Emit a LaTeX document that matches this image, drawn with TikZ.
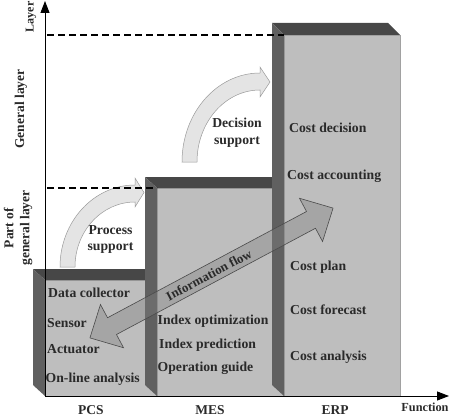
\documentclass[tikz,border=0pt]{standalone}
\usepackage{fontspec}
\setmainfont{Liberation Serif}
\usetikzlibrary{arrows.meta}
\definecolor{front}{HTML}{BEBEBE}
\definecolor{side}{HTML}{606060}
\definecolor{topc}{HTML}{474747}
\definecolor{txt}{HTML}{2A2A2A}
\definecolor{curvefill}{HTML}{E4E4E4}
\definecolor{curveedge}{HTML}{9A9A9A}
\definecolor{flowfill}{HTML}{808080}
\definecolor{flowedge}{HTML}{4A4A4A}
\begin{document}
\begin{tikzpicture}[x=1pt,y=-1pt,
  lbl/.style={font=\fontsize{13.7}{16}\selectfont\bfseries, text=txt, inner sep=0pt, anchor=west},
  axlbl/.style={font=\fontsize{13.5}{16}\selectfont\bfseries, text=txt, inner sep=0pt},
  frontface/.style={fill=front, draw=front!85!black, line width=0.3pt},
  sideface/.style={fill=side},
  topface/.style={fill=topc},
  curvearrow/.style={fill=curvefill, draw=curveedge, line width=0.5pt},
  flow/.style={fill=flowfill, fill opacity=0.4, draw=flowedge, draw opacity=1, line width=0.6pt},
  guide/.style={dash pattern=on 7pt off 4pt, line width=1.8pt},
  axisline/.style={line width=1pt, -{Triangle[length=12pt,width=9pt]}}
]
\useasboundingbox (0,0) rectangle (450,420);
% PCS block
\fill[frontface] (45,280) rectangle (157,396);
\fill[topface] (33,269) -- (157,269) -- (157,280) -- (45,280) -- cycle;
\fill[sideface] (33,269) -- (45,280) -- (45,396) -- (33,385) -- cycle;
% MES block
\fill[frontface] (157,188) rectangle (284,396);
\fill[topface] (145,177) -- (284,177) -- (284,188) -- (157,188) -- cycle;
\fill[sideface] (145,177) -- (157,188) -- (157,396) -- (145,385) -- cycle;
% ERP block
\filldraw[frontface] (284,35) rectangle (400,396);
\fill[topface] (272,23) -- (388,23) -- (400,35) -- (284,35) -- cycle;
\fill[sideface] (272,23) -- (284,35) -- (284,396) -- (272,385) -- cycle;
% curved arrows
\draw[curvearrow] (60,267) arc[start angle=180, end angle=270, x radius=75, y radius=82]
  -- (135,178) -- (144,192.5) -- (135,207) -- (135,202)
  arc[start angle=270, end angle=180, x radius=60, y radius=65] -- cycle;
\draw[curvearrow] (182,162) arc[start angle=180, end angle=270, x radius=78, y radius=89]
  -- (260,67) -- (270,82) -- (260,97) -- (260,90)
  arc[start angle=270, end angle=180, x radius=63, y radius=72] -- cycle;
\node[axlbl, align=center, font=\fontsize{13.7}{16}\selectfont\bfseries] (procsup) at (110.5,239) {Process\\support};
\node[axlbl, align=center, font=\fontsize{13.7}{17}\selectfont\bfseries] (decsup) at (237,132.5) {Decision\\support};
% information flow
\begin{scope}[shift={(211.5,273)}, rotate=28.1]
\draw[flow] (-137.8,0) -- (-112.8,24.5) -- (-112.8,9.5) -- (112.8,9.5) -- (112.8,24.5)
  -- (137.8,0) -- (112.8,-24.5) -- (112.8,-9.5) -- (-112.8,-9.5) -- (-112.8,-24.5) -- cycle;
\end{scope}
\node[axlbl, rotate=28.1, font=\fontsize{13}{15}\selectfont\bfseries] (flowtxt) at (209,275) {Information flow};
% guide lines
\coordinate (g1a) at (47,35); \coordinate (g1b) at (284,35);
\coordinate (g2a) at (47,188); \coordinate (g2b) at (157,188);
\draw[guide] (g1a) -- (g1b);
\draw[guide] (g2a) -- (g2b);
% axes
\coordinate (o) at (45,396);
\coordinate (ytip) at (45,1);
\coordinate (xtip) at (449,396);
\draw[axisline] (o) -- (ytip);
\draw[axisline] (o) -- (xtip);
% PCS texts
\node[lbl] (dc) at (48,293) {Data collector};
\node[lbl] (sen) at (47,323) {Sensor};
\node[lbl] (act) at (47,349) {Actuator};
\node[lbl] (ola) at (45.5,379) {On-line analysis};
% MES texts
\node[lbl] (io) at (157.5,321) {Index optimization};
\node[lbl] (ip) at (159,345) {Index prediction};
\node[lbl] (og) at (157.5,368) {Operation guide};
% ERP texts
\node[lbl] (cd) at (289,128) {Cost decision};
\node[lbl] (ca) at (287,176) {Cost accounting};
\node[lbl] (cp) at (290,267) {Cost plan};
\node[lbl] (cf) at (290,310) {Cost forecast};
\node[lbl] (can) at (290,357) {Cost analysis};
% axis labels
\node[axlbl] (pcs) at (91,410) {PCS};
\node[axlbl] (mes) at (210,410) {MES};
\node[axlbl] (erp) at (335,410) {ERP};
\node[axlbl, font=\fontsize{12.3}{14}\selectfont\bfseries] (func) at (425,407) {Function};
\node[axlbl, rotate=90, font=\fontsize{12}{14}\selectfont\bfseries] (layer) at (31,17) {Layer};
\node[axlbl, rotate=90] (gen) at (21,109) {General layer};
\node[axlbl, rotate=90, align=center] (part) at (18,228) {Part of\\general layer};
\end{tikzpicture}
\end{document}
